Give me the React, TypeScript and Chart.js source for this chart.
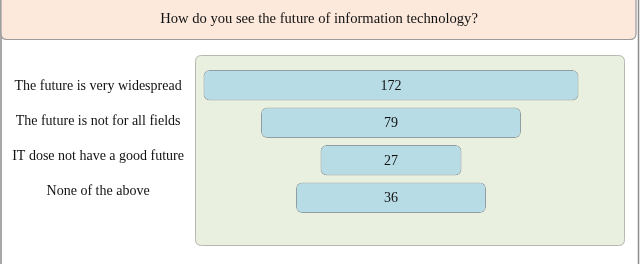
import React, { useEffect, useRef } from "react";
import { Chart, registerables } from "chart.js";

Chart.register(...registerables);

const titleText = "How do you see the future of information technology?";
const categories = [
  "The future is very widespread",
  "The future is not for all fields",
  "IT dose not have a good future",
  "None of the above",
];
const responseCounts = [172, 79, 27, 36];
// funnel bar lengths as drawn in the reference (axis units)
const funnelLengths = [375, 260, 141, 190];

const FONT = "'Liberation Serif', 'Times New Roman', serif";

function roundRect(ctx: CanvasRenderingContext2D, x: number, y: number, w: number, h: number, r: number) {
  ctx.beginPath();
  ctx.moveTo(x + r, y);
  ctx.lineTo(x + w - r, y);
  ctx.quadraticCurveTo(x + w, y, x + w, y + r);
  ctx.lineTo(x + w, y + h - r);
  ctx.quadraticCurveTo(x + w, y + h, x + w - r, y + h);
  ctx.lineTo(x + r, y + h);
  ctx.quadraticCurveTo(x, y + h, x, y + h - r);
  ctx.lineTo(x, y + r);
  ctx.quadraticCurveTo(x, y, x + r, y);
  ctx.closePath();
}

const framePlugin = {
  id: "frame",
  beforeDraw(chart: any) {
    const ctx: CanvasRenderingContext2D = chart.ctx;
    const a = chart.chartArea;
    ctx.save();
    ctx.fillStyle = "#ffffff";
    ctx.fillRect(0, 0, chart.width, chart.height);
    // outer frame
    ctx.strokeStyle = "#8c8c8c";
    ctx.lineWidth = 1.5;
    ctx.beginPath();
    ctx.moveTo(1, 0);
    ctx.lineTo(1, chart.height);
    ctx.moveTo(638.5, 0);
    ctx.lineTo(638.5, chart.height);
    ctx.stroke();
    // header
    roundRect(ctx, 1, -8, 635, 47.5, 6);
    ctx.fillStyle = "#fce9dc";
    ctx.fill();
    ctx.strokeStyle = "#9a9a9a";
    ctx.lineWidth = 1.2;
    ctx.stroke();
    ctx.fillStyle = "#111";
    ctx.font = `14.6px ${FONT}`;
    ctx.textAlign = "center";
    ctx.textBaseline = "middle";
    ctx.fillText(titleText, 319, 19);
    // panel
    const px = a.left;
    const py = a.top - 11.5;
    const pw = a.right - a.left;
    const ph = a.bottom + 28.5 - py;
    roundRect(ctx, px + 0.5, py + 0.5, pw, ph, 6);
    ctx.fillStyle = "#eaf0e0";
    ctx.fill();
    ctx.strokeStyle = "#b8b8b0";
    ctx.lineWidth = 1;
    ctx.stroke();
    ctx.restore();
  },
  afterDatasetsDraw(chart: any) {
    const ctx: CanvasRenderingContext2D = chart.ctx;
    const meta = chart.getDatasetMeta(0);
    ctx.save();
    ctx.fillStyle = "#111";
    ctx.font = `14px ${FONT}`;
    ctx.textAlign = "center";
    ctx.textBaseline = "middle";
    meta.data.forEach((el: any, i: number) => {
      const cx = (el.x + el.base) / 2;
      ctx.fillText(String(responseCounts[i]), cx, el.y + 1);
    });
    ctx.restore();
  },
};

export default function App() {
  const ref = useRef<HTMLCanvasElement>(null);
  useEffect(() => {
    document.body.style.margin = "0";
    const ctx = ref.current!;
    const chart = new Chart(ctx, {
      type: "bar",
      data: {
        labels: categories,
        datasets: [
          {
            data: funnelLengths.map((w) => [-w / 2, w / 2]) as any,
            backgroundColor: "#b7dce6",
            borderColor: "#8e9ea2",
            borderWidth: 1,
            borderRadius: 6,
            borderSkipped: false,
            barPercentage: 0.81,
            categoryPercentage: 1,
          },
        ],
      },
      options: {
        indexAxis: "y",
        animation: false,
        responsive: false,
        maintainAspectRatio: false,
        layout: { padding: { top: 66.5, bottom: 47.5, left: 0, right: 16 } },
        plugins: { legend: { display: false }, tooltip: { enabled: false }, title: { display: false } },
        scales: {
          x: {
            min: -196,
            max: 233,
            display: false,
          },
          y: {
            display: false,
          },
          yLabels: {
            type: "linear",
            axis: "y",
            position: "left",
            reverse: true,
            offset: false,
            beginAtZero: false,
            min: -0.554,
            max: 3.707,
            grid: { display: false, offset: false },
            border: { display: false },
            afterBuildTicks(scale: any) {
              scale.ticks = categories.map((_, i) => ({ value: i }));
            },
            ticks: {
              color: "#111",
              font: { family: FONT, size: 14 },
              crossAlign: "center",
              padding: 3,
              autoSkip: false,
              callback: (v: any) => categories[v as number] ?? "",
            },
            afterFit(scale: any) {
              scale.width = 195;
            },
          },
        },
      },
      plugins: [framePlugin],
    });
    return () => chart.destroy();
  }, []);
  return (
    <div style={{ width: 640, height: 264 }}>
      <canvas ref={ref} width={640} height={264} style={{ display: "block", width: 640, height: 264 }} />
    </div>
  );
}
